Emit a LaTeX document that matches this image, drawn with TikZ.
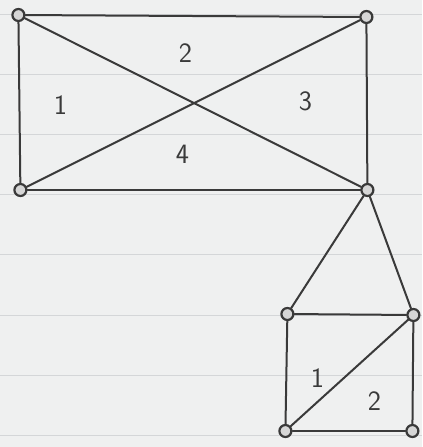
\documentclass[tikz,border=0pt]{standalone}
\usepackage{tikz}
\usetikzlibrary{backgrounds}
\definecolor{gpaper}{RGB}{239,240,240}
\definecolor{grule}{RGB}{212,214,216}
\definecolor{gink}{RGB}{58,58,58}
\definecolor{gdot}{RGB}{214,214,214}
\pgfdeclarelayer{paper}
\pgfsetlayers{paper,background,main}
\tikzset{
  vtx/.style={
    circle, draw=gink, fill=gdot, line width=2.2pt,
    minimum size=12pt, inner sep=0pt
  },
  edg/.style={draw=gink, line width=2pt, line cap=round, line join=round},
  lbl/.style={text=gink, font=\fontsize{28}{28}\selectfont\sffamily},
  rule/.style={draw=grule, line width=0.8pt}
}

\begin{document}
\begin{tikzpicture}[x=1pt, y=-1pt]
  % paper
  \begin{pgfonlayer}{paper}
    \fill[gpaper] (0,0) rectangle (422,447);
    \foreach \ry in {14,74,134,194,254,315,375,435}
      \draw[rule] (0,\ry) -- (422,\ry);
  \end{pgfonlayer}
  \useasboundingbox (0,0) rectangle (422,447);

  % rectangle with diagonals
  \node[vtx] (a) at (18,15) {};
  \node[vtx] (b) at (366,17) {};
  \node[vtx] (c) at (20,190) {};
  \node[vtx] (d) at (367,190) {};
  % lower square
  \node[vtx] (e) at (287,314) {};
  \node[vtx] (f) at (413,315) {};
  \node[vtx] (g) at (285,431) {};
  \node[vtx] (h) at (412,431) {};

  \begin{scope}[on background layer]
    \draw[edg] (a) -- (b);
    \draw[edg] (a) -- (c);
    \draw[edg] (b) -- (d);
    \draw[edg] (c) -- (d);
    \draw[edg] (a) -- (d);
    \draw[edg] (b) -- (c);
    \draw[edg] (d) -- (e);
    \draw[edg] (d) -- (f);
    \draw[edg] (e) -- (f);
    \draw[edg] (e) -- (g);
    \draw[edg] (f) -- (h);
    \draw[edg] (g) -- (h);
    \draw[edg] (g) -- (f);
  \end{scope}

  % faces
  \node[lbl] (f1) at (60,105) {1};
  \node[lbl] (f2) at (185,53) {2};
  \node[lbl] (f3) at (305,101) {3};
  \node[lbl] (f4) at (182,154) {4};
  \node[lbl] (s1) at (317,378) {1};
  \node[lbl] (s2) at (374,401) {2};
\end{tikzpicture}
\end{document}
